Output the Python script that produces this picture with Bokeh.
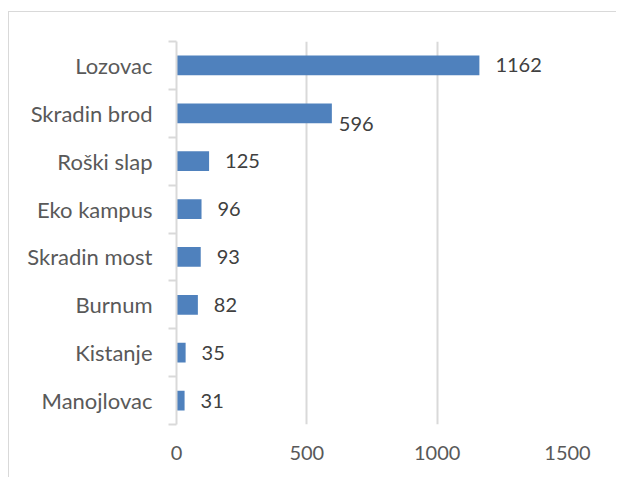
from bokeh.plotting import figure
from bokeh.models import ColumnDataSource, FixedTicker, Range1d
from bokeh.core.properties import value
from bokeh.embed import file_html
from bokeh.resources import INLINE

categories = ["Lozovac", "Skradin brod", "Roški slap", "Eko kampus",
              "Skradin most", "Burnum", "Kistanje", "Manojlovac"]
values = [1162, 596, 125, 96, 93, 82, 35, 31]
x_ticks = [0, 500, 1000, 1500]

# label offsets (screen px), style only
label_dx = [16, 7, 16, 16, 16, 16, 16, 16]
label_dy = [0, 11, 0, 0, 0, 0, 0, 0]

idx = list(range(len(categories)))
src = ColumnDataSource(dict(
    y=idx, v=values, t=[str(v) for v in values], dx=label_dx, dy=label_dy))

FONT = "Lato"
FS_CAT = "22px"
FS_NUM = "20px"

p = figure(width=608, height=466, output_backend="svg", toolbar_location=None,
           x_range=Range1d(0, 1500),
           y_range=Range1d(len(categories) - 0.5, -0.5),
           min_border_left=167, min_border_right=50,
           min_border_top=29, min_border_bottom=54)
p.outline_line_color = None
p.background_fill_color = "white"
p.border_fill_color = "white"
p.styles = {"margin-top": "11px", "margin-left": "8px",
            "border-top": "1px solid #d9d9d9",
            "border-left": "1px solid #d9d9d9"}

p.hbar(y="y", left=0, right="v", height=0.41, source=src,
       fill_color="#4F81BD", line_color=None)
p.text(x="v", y="y", text="t", x_offset="dx", y_offset="dy", source=src,
       text_font=value(FONT), text_font_size=FS_NUM, text_color="#404040",
       text_baseline="middle", text_align="left")

# x axis
xa = p.xaxis[0]
xa.ticker = FixedTicker(ticks=x_ticks)
xa.axis_line_color = None
xa.major_tick_line_color = None
xa.minor_tick_line_color = None
xa.major_tick_out = 0
xa.major_tick_in = 0
xa.major_label_standoff = 21
xa.major_label_text_font = FONT
xa.major_label_text_font_size = FS_NUM
xa.major_label_text_color = "#595959"

# y axis: labels at category centres, tick marks at boundaries
ya = p.yaxis[0]
bounds = [i - 0.5 for i in range(len(categories) + 1)]
ya.ticker = FixedTicker(ticks=idx, minor_ticks=bounds)
ya.major_label_overrides = {i: c for i, c in zip(idx, categories)}
ya.axis_line_color = "#d9d9d9"
ya.axis_line_width = 2
ya.major_tick_line_color = None
ya.major_tick_out = 0
ya.major_tick_in = 0
ya.minor_tick_line_color = "#d9d9d9"
ya.minor_tick_line_width = 2
ya.minor_tick_out = 8
ya.minor_tick_in = 0
ya.major_label_standoff = 16
ya.major_label_text_font = FONT
ya.major_label_text_font_size = FS_CAT
ya.major_label_text_color = "#595959"

p.xgrid.grid_line_color = "#d9d9d9"
p.xgrid.grid_line_width = 2
p.xgrid.ticker = FixedTicker(ticks=x_ticks)
p.ygrid.grid_line_color = None

open("out.html", "w").write(file_html(p, INLINE))
